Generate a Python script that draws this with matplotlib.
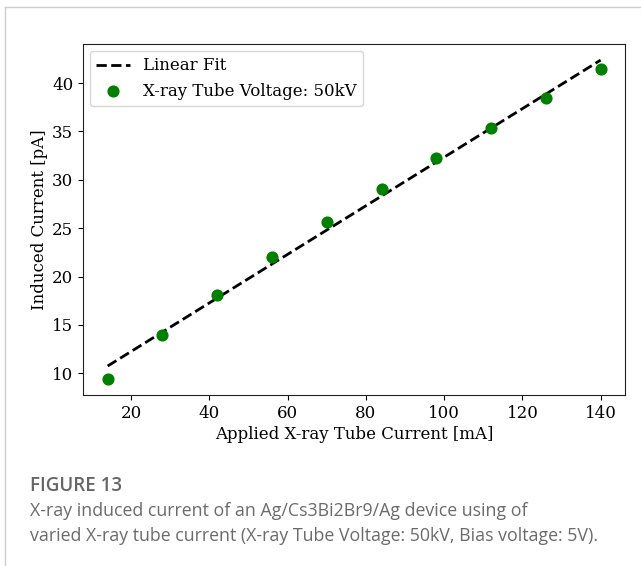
import numpy as np
import matplotlib.pyplot as plt
from matplotlib.lines import Line2D

# data
tube_current = [14, 28, 42, 56, 70, 84, 98, 112, 126, 140]
induced_current = [9.4, 14.0, 18.1, 22.0, 25.6, 29.0, 32.3, 35.4, 38.4, 41.4]

caption_title = "FIGURE 13"
caption_text = ("X-ray induced current of an Ag/Cs3Bi2Br9/Ag device using of\n"
                "varied X-ray tube current (X-ray Tube Voltage: 50kV, Bias voltage: 5V).")

plt.rcParams['font.family'] = 'DejaVu Serif'

fig = plt.figure(figsize=(6.41, 5.66), dpi=100)
ax = fig.add_axes([0.1295, 0.302, 0.846, 0.620])

# linear fit
slope, icpt = np.polyfit(tube_current, induced_current, 1)
xs = np.array(tube_current)
ax.plot(xs, slope * xs + icpt, '--', color='black', lw=2, label='Linear Fit')
ax.scatter(tube_current, induced_current, s=60, color='green', zorder=3,
           label='X-ray Tube Voltage: 50kV')

ax.set_xlabel('Applied X-ray Tube Current [mA]', fontsize=12, labelpad=3)
ax.set_ylabel('Induced Current [pA]', fontsize=12, labelpad=3)
ax.tick_params(labelsize=12)
ax.set_xticks([20, 40, 60, 80, 100, 120, 140])
ax.set_yticks([10, 15, 20, 25, 30, 35, 40])
for s in ax.spines.values():
    s.set_color('#222222')
ax.legend(loc='upper left', fontsize=12, borderaxespad=0.4)

# frame lines of the page
fig.add_artist(Line2D([0.008, 1.0], [0.988, 0.988], color='#cccccc', lw=1))
fig.add_artist(Line2D([0.008, 0.008], [0.0, 0.988], color='#cccccc', lw=1))

fig.text(0.047, 0.142, caption_title, fontsize=13.5, color='#666666',
         family='Open Sans', weight='semibold', va='center')
fig.text(0.047, 0.075, caption_text, fontsize=12.8, color='#6b6b6b',
         family='Open Sans', va='center', linespacing=1.45)

fig.savefig('out.png', dpi=100)
